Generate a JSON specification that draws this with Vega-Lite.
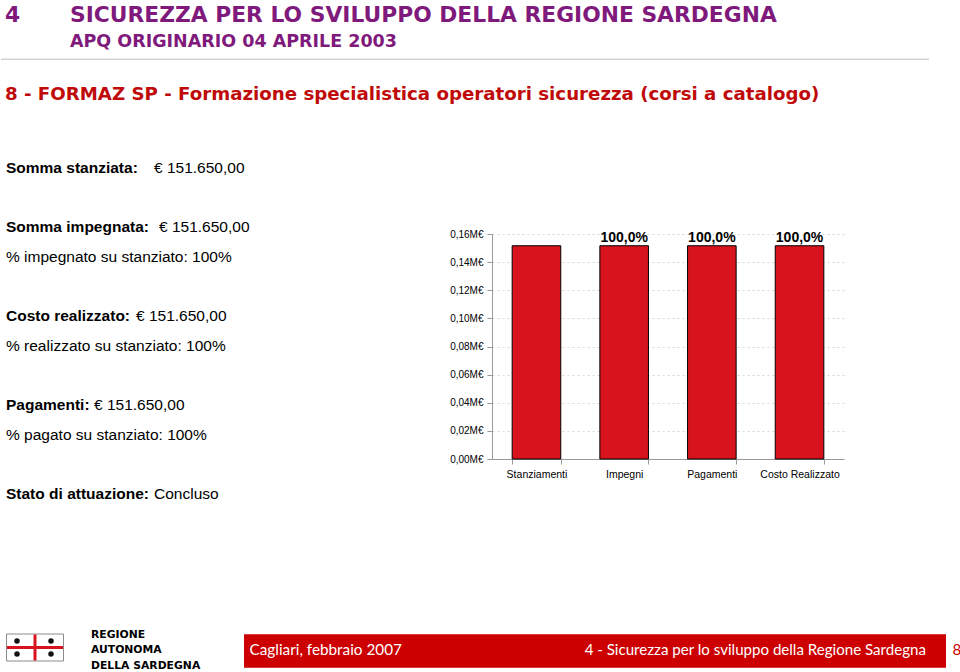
{
  "$schema": "https://vega.github.io/schema/vega-lite/v6.json",
  "padding": 0,
  "spacing": 0,
  "background": "white",
  "config": {
    "view": {"stroke": null},
    "concat": {"spacing": 0},
    "font": "Liberation Sans",
    "locale": {"number": {"decimal": ",", "thousands": ".", "grouping": [3], "currency": ["€ ", ""]}}
  },
  "datasets": {
    "intestazione": [
      {"parte": "numero", "testo": "4"},
      {"parte": "titolo", "testo": "SICUREZZA PER LO SVILUPPO DELLA REGIONE SARDEGNA"},
      {"parte": "sottotitolo", "testo": "APQ ORIGINARIO 04 APRILE 2003"},
      {"parte": "intervento", "testo": "8 - FORMAZ SP - Formazione specialistica operatori sicurezza (corsi a catalogo)"}
    ],
    "scheda": [
      {"riga": "r01", "etichetta": "Somma stanziata:", "valore": "€ 151.650,00"},
      {"riga": "r03", "etichetta": "Somma impegnata:", "valore": "€ 151.650,00"},
      {"riga": "r04", "etichetta": "", "valore": "% impegnato su stanziato: 100%"},
      {"riga": "r06", "etichetta": "Costo realizzato:", "valore": "€ 151.650,00"},
      {"riga": "r07", "etichetta": "", "valore": "% realizzato su stanziato: 100%"},
      {"riga": "r09", "etichetta": "Pagamenti:", "valore": "€ 151.650,00"},
      {"riga": "r10", "etichetta": "", "valore": "% pagato su stanziato: 100%"},
      {"riga": "r12", "etichetta": "Stato di attuazione:", "valore": "Concluso"}
    ],
    "grafico": [
      {"voce": "Stanziamenti", "importo": 151650},
      {"voce": "Impegni", "importo": 151650, "percentuale": 1.0},
      {"voce": "Pagamenti", "importo": 151650, "percentuale": 1.0},
      {"voce": "Costo Realizzato", "importo": 151650, "percentuale": 1.0}
    ],
    "piede": [
      {"parte": "ente", "testo": ["REGIONE", "AUTONOMA", "DELLA SARDEGNA"]},
      {"parte": "luogo", "testo": "Cagliari, febbraio 2007"},
      {"parte": "capitolo", "testo": "4 - Sicurezza per lo sviluppo della Regione Sardegna"},
      {"parte": "pagina", "testo": "8"}
    ]
  },
  "vconcat": [
    {
      "width": 960,
      "height": 112,
      "data": {"name": "intestazione"},
      "layer": [
        {
          "transform": [{"filter": "datum.parte === 'numero'"}],
          "mark": {"type": "text", "align": "left", "baseline": "alphabetic", "font": "DejaVu Sans", "fontWeight": "bold", "fontSize": 21.8, "color": "#7F1A7C"},
          "encoding": {"x": {"value": 4}, "y": {"value": 21.7}, "text": {"field": "testo"}}
        },
        {
          "transform": [{"filter": "datum.parte === 'titolo'"}],
          "mark": {"type": "text", "align": "left", "baseline": "alphabetic", "font": "DejaVu Sans", "fontWeight": "bold", "fontSize": 21.8, "color": "#7F1A7C"},
          "encoding": {"x": {"value": 69}, "y": {"value": 21.7}, "text": {"field": "testo"}}
        },
        {
          "transform": [{"filter": "datum.parte === 'sottotitolo'"}],
          "mark": {"type": "text", "align": "left", "baseline": "alphabetic", "font": "DejaVu Sans", "fontWeight": "bold", "fontSize": 17.5, "color": "#7F1A7C"},
          "encoding": {"x": {"value": 69}, "y": {"value": 46.7}, "text": {"field": "testo"}}
        },
        {
          "transform": [{"filter": "datum.parte === 'sottotitolo'"}],
          "mark": {"type": "rule", "color": "#d4d4d4", "strokeWidth": 1.5},
          "encoding": {"x": {"value": 0}, "x2": {"value": 928}, "y": {"value": 59.3}}
        },
        {
          "transform": [{"filter": "datum.parte === 'intervento'"}],
          "mark": {"type": "text", "align": "left", "baseline": "alphabetic", "font": "DejaVu Sans", "fontWeight": "bold", "fontSize": 18.2, "color": "#C00A0A"},
          "encoding": {"x": {"value": 4}, "y": {"value": 100}, "text": {"field": "testo"}}
        }
      ]
    },
    {
      "hconcat": [
        {
          "width": 448,
          "height": 438,
          "data": {"name": "scheda"},
          "encoding": {
            "y": {"field": "riga", "type": "ordinal", "axis": null,
              "scale": {"type": "point", "padding": 0.89, "domain": ["r00", "r01", "r02", "r03", "r04", "r05", "r06", "r07", "r08", "r09", "r10", "r11", "r12", "r13"]}}
          },
          "layer": [
            {
              "mark": {"type": "text", "align": "left", "baseline": "middle", "fontWeight": "bold", "fontSize": 15.5, "color": "#000000"},
              "encoding": {"x": {"value": 5}, "text": {"field": "etichetta"}}
            },
            {
              "transform": [{"filter": "datum.etichetta === ''"}],
              "mark": {"type": "text", "align": "left", "baseline": "middle", "fontSize": 15.5, "color": "#000000"},
              "encoding": {"x": {"value": 5}, "text": {"field": "valore"}}
            },
            {
              "transform": [{"filter": "datum.riga === 'r01'"}],
              "mark": {"type": "text", "align": "left", "baseline": "middle", "fontSize": 15.5, "color": "#000000", "dx": 148},
              "encoding": {"x": {"value": 5}, "text": {"field": "valore"}}
            },
            {
              "transform": [{"filter": "datum.riga === 'r03'"}],
              "mark": {"type": "text", "align": "left", "baseline": "middle", "fontSize": 15.5, "color": "#000000", "dx": 153},
              "encoding": {"x": {"value": 5}, "text": {"field": "valore"}}
            },
            {
              "transform": [{"filter": "datum.riga === 'r06'"}],
              "mark": {"type": "text", "align": "left", "baseline": "middle", "fontSize": 15.5, "color": "#000000", "dx": 130},
              "encoding": {"x": {"value": 5}, "text": {"field": "valore"}}
            },
            {
              "transform": [{"filter": "datum.riga === 'r09'"}],
              "mark": {"type": "text", "align": "left", "baseline": "middle", "fontSize": 15.5, "color": "#000000", "dx": 88},
              "encoding": {"x": {"value": 5}, "text": {"field": "valore"}}
            },
            {
              "transform": [{"filter": "datum.riga === 'r12'"}],
              "mark": {"type": "text", "align": "left", "baseline": "middle", "fontSize": 15.5, "color": "#000000", "dx": 148},
              "encoding": {"x": {"value": 5}, "text": {"field": "valore"}}
            }
          ]
        },
        {
          "vconcat": [
            {
              "width": 352,
              "height": 117,
              "data": {"values": []},
              "mark": {"type": "text"},
              "encoding": {}
            },
            {
              "width": 352,
              "height": 225,
              "data": {"name": "grafico"},
              "encoding": {
                "x": {"field": "voce", "type": "nominal", "sort": null,
                  "scale": {"paddingInner": 0.446, "paddingOuter": 0.23},
                  "axis": {"title": null, "labelAngle": 0, "labelFont": "Liberation Sans", "labelFontSize": 10.5, "labelColor": "#000000",
                    "labelPadding": 5, "tickSize": 5, "tickBand": "extent", "tickColor": "#999999", "domainColor": "#999999", "grid": false}},
                "y": {"field": "importo", "type": "quantitative",
                  "scale": {"domain": [0, 160000], "nice": false},
                  "axis": {"title": null, "values": [0, 20000, 40000, 60000, 80000, 100000, 120000, 140000, 160000],
                    "labelOverlap": false,
                    "labelExpr": "replace(format(datum.value / 1000000, '.2f'), '.', ',') + 'M€'",
                    "labelFont": "Liberation Sans", "labelFontSize": 10, "labelColor": "#000000", "labelPadding": 4,
                    "tickSize": 5, "tickColor": "#999999", "domainColor": "#999999",
                    "grid": true, "gridColor": "#d6d6d6", "gridDash": [2, 3], "gridWidth": 1}}
              },
              "layer": [
                {
                  "mark": {"type": "bar", "fill": "#D7141E", "stroke": "#000000", "strokeWidth": 1}
                },
                {
                  "transform": [{"filter": "isValid(datum.percentuale)"}],
                  "mark": {"type": "text", "baseline": "alphabetic", "dy": -4, "fontWeight": "bold", "fontSize": 14, "color": "#000000"},
                  "encoding": {
                    "text": {"field": "percentuale", "type": "quantitative", "format": ".1%"}
                  }
                }
              ]
            }
          ]
        }
      ]
    },
    {
      "width": 960,
      "height": 122,
      "data": {"name": "piede"},
      "layer": [
        {
          "transform": [{"filter": "datum.parte === 'ente'"}],
          "mark": {"type": "rect", "fill": "#ffffff", "stroke": "#8c8c8c", "strokeWidth": 1},
          "encoding": {"x": {"value": 5.5}, "x2": {"value": 62.5}, "y": {"value": 84}, "y2": {"value": 111}}
        },
        {
          "transform": [{"filter": "datum.parte === 'ente'"}],
          "mark": {"type": "rect", "fill": "#D7141E"},
          "encoding": {"x": {"value": 6}, "x2": {"value": 62}, "y": {"value": 96}, "y2": {"value": 99}}
        },
        {
          "transform": [{"filter": "datum.parte === 'ente'"}],
          "mark": {"type": "rect", "fill": "#D7141E"},
          "encoding": {"x": {"value": 32.5}, "x2": {"value": 35.5}, "y": {"value": 84.5}, "y2": {"value": 110.5}}
        },
        {
          "transform": [{"filter": "datum.parte === 'ente'"}],
          "mark": {"type": "point", "filled": true, "color": "#111111", "size": 30, "opacity": 1},
          "encoding": {"x": {"value": 16}, "y": {"value": 91}}
        },
        {
          "transform": [{"filter": "datum.parte === 'ente'"}],
          "mark": {"type": "point", "filled": true, "color": "#111111", "size": 30, "opacity": 1},
          "encoding": {"x": {"value": 50}, "y": {"value": 91}}
        },
        {
          "transform": [{"filter": "datum.parte === 'ente'"}],
          "mark": {"type": "point", "filled": true, "color": "#111111", "size": 30, "opacity": 1},
          "encoding": {"x": {"value": 16}, "y": {"value": 104}}
        },
        {
          "transform": [{"filter": "datum.parte === 'ente'"}],
          "mark": {"type": "point", "filled": true, "color": "#111111", "size": 30, "opacity": 1},
          "encoding": {"x": {"value": 50}, "y": {"value": 104}}
        },
        {
          "transform": [{"filter": "datum.parte === 'ente'"}],
          "mark": {"type": "text", "align": "left", "baseline": "alphabetic", "font": "DejaVu Sans", "fontWeight": "bold", "fontSize": 10.8, "lineHeight": 15.7, "color": "#000000"},
          "encoding": {"x": {"value": 90}, "y": {"value": 87.7}, "text": {"field": "testo"}}
        },
        {
          "transform": [{"filter": "datum.parte === 'luogo'"}],
          "mark": {"type": "rect", "fill": "#CC0000"},
          "encoding": {"x": {"value": 243}, "x2": {"value": 945}, "y": {"value": 84.3}, "y2": {"value": 117.7}}
        },
        {
          "transform": [{"filter": "datum.parte === 'luogo'"}],
          "mark": {"type": "text", "align": "left", "baseline": "alphabetic", "font": "Lato", "fontSize": 15.3, "color": "#ffffff"},
          "encoding": {"x": {"value": 248.5}, "y": {"value": 104.5}, "text": {"field": "testo"}}
        },
        {
          "transform": [{"filter": "datum.parte === 'capitolo'"}],
          "mark": {"type": "text", "align": "right", "baseline": "alphabetic", "font": "Lato", "fontSize": 15.1, "color": "#ffffff"},
          "encoding": {"x": {"value": 925}, "y": {"value": 104.5}, "text": {"field": "testo"}}
        },
        {
          "transform": [{"filter": "datum.parte === 'pagina'"}],
          "mark": {"type": "text", "align": "left", "baseline": "alphabetic", "font": "Lato", "fontSize": 15.1, "color": "#CC0000"},
          "encoding": {"x": {"value": 951.5}, "y": {"value": 104.5}, "text": {"field": "testo"}}
        }
      ]
    }
  ]
}
